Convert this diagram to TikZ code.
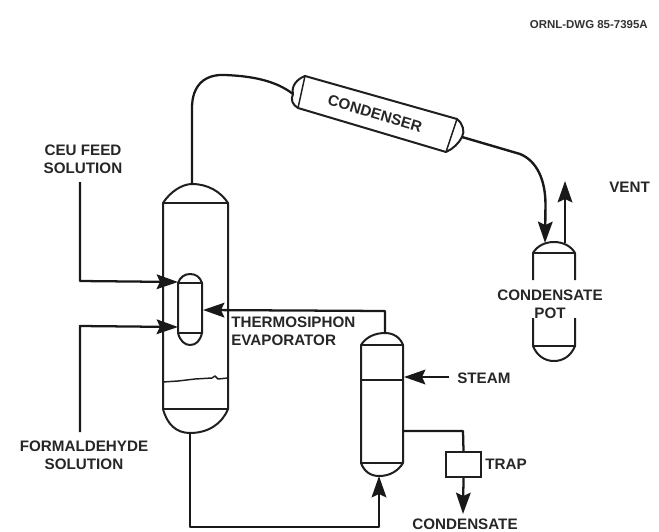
\documentclass[tikz,border=0pt]{standalone}
\usepackage{fontspec}
\setmainfont{Liberation Sans}
\usetikzlibrary{arrows.meta}
\tikzset{
  x=0.75pt,y=-0.75pt,
  vessel/.style={draw=black!88,line width=1.5pt,line join=round},
  pipe/.style={draw=black!90,line width=1.7pt,line join=round},
  flow/.style={pipe,-{Stealth[length=16pt,width=11pt,inset=2.5pt]}},
  lab/.style={font=\bfseries\fontsize{11.4pt}{13.2pt}\selectfont,text=black!85,align=center,inner sep=0pt},
  tag/.style={font=\bfseries\fontsize{8.6pt}{10pt}\selectfont,text=black!80,inner sep=0pt}
}
\begin{document}
\begin{tikzpicture}
\useasboundingbox (0,0) rectangle (659,531);
% named points
\coordinate (colTop) at (192,184);
\coordinate (colBot) at (190,433);
\coordinate (colR) at (228,310);
\coordinate (innerL1) at (178,282);
\coordinate (innerL2) at (178,327);
\coordinate (innerR) at (203,310);
\coordinate (evapTop) at (385,333);
\coordinate (evapBot) at (379,476);
\coordinate (evapR) at (403,431);
\coordinate (evapSteam) at (404,377);
\coordinate (condIn) at (293,94);
\coordinate (condOut) at (462,137);
\coordinate (potIn) at (545,243);
\coordinate (potOut) at (565,243);
\coordinate (ventTip) at (565,181);
\coordinate (ceuStart) at (80,182);
\coordinate (formStart) at (80,432);
\coordinate (steamStart) at (449,377);
\coordinate (condTip) at (463,514);
% main column
\draw[vessel] (163,203) .. controls (170,192) and (182,184) .. (colTop) .. controls (208,184) and (221,192) .. (228,203)
  -- (228,409) .. controls (222,424) and (208,433) .. (colBot) .. controls (176,433) and (167,424) .. (163,409) -- cycle;
\draw[vessel] (163,203) -- (228,203);
\draw[vessel] (163,409) -- (228,409);
\draw[vessel,line width=1.1pt] (163,382) -- (178,381) -- (195,379) -- (212,378) -- (215,376) -- (218,379) -- (228,378);
% inner evaporator
\draw[vessel] (178,283) .. controls (180,277) and (185,274) .. (190,274) .. controls (196,274) and (200,277) .. (202,283)
  -- (202,333) .. controls (200,341) and (196,345) .. (190,345) .. controls (185,345) and (180,341) .. (178,333) -- cycle;
\draw[vessel,line width=1.1pt] (178,283) -- (202,283);
\draw[vessel,line width=1.1pt] (178,333) -- (202,333);
% thermosiphon vessel
\draw[vessel] (361,345) .. controls (366,337) and (375,333) .. (evapTop) .. controls (393,333) and (400,337) .. (403,345)
  -- (403,463) .. controls (398,471) and (390,476) .. (evapBot) .. controls (370,476) and (364,471) .. (361,463) -- cycle;
\draw[vessel] (361,345) -- (403,345);
\draw[vessel] (361,380) -- (403,380);
\draw[vessel] (361,463) -- (403,463);
% condenser
\draw[vessel] (305,76) -- (457,119) .. controls (463,124) and (465,131) .. (condOut) .. controls (459,143) and (453,149) .. (446,152)
  -- (298,108) .. controls (293,105) and (290,100) .. (condIn) .. controls (291,86) and (297,79) .. (305,76) -- cycle;
\draw[vessel,line width=1.1pt] (305,76) -- (298,108);
\draw[vessel,line width=1.1pt] (457,119) -- (446,152);
\node[lab,rotate=-16.5] (condenser) at (375,113.5) {CONDENSER};
% pot
\draw[vessel] (533,280) -- (533,253) .. controls (537,246) and (545,242) .. (554,242) .. controls (563,242) and (571,246) .. (575,253) -- (575,280);
\draw[vessel] (533,318) -- (533,346) .. controls (537,356) and (545,361) .. (554,361) .. controls (563,361) and (571,356) .. (575,346) -- (575,318);
\draw[vessel] (533,253) -- (575,253);
\draw[vessel] (533,346) -- (575,346);
% trap
\node[draw=black!88,line width=1.5pt,minimum width=26.2pt,minimum height=18.8pt,inner sep=0pt] (trap) at (463.5,464.5) {};
% pipes
\draw[pipe] (colTop) -- (192,108) .. controls (192,85) and (205,74) .. (225,75) .. controls (250,76) and (275,80) .. (condIn);
\draw[flow,line width=1.8pt] (condOut) -- (520,154) .. controls (537,161) and (545.5,180) .. (545.5,205) -- (potIn);
\draw[flow] (potOut) -- (ventTip);
\draw[flow] (ceuStart) -- (80,281) -- (innerL1);
\draw[flow] (formStart) -- (80,326) -- (innerL2);
\draw[flow] (evapTop) -- (385,311) -- (innerR);
\draw[flow] (steamStart) -- (evapSteam);
\draw[flow] (colBot) -- (190,527) -- (379,527) -- (evapBot);
\draw[pipe] (evapR) -- (463,431) -- (trap.north);
\draw[flow] (trap.south) -- (condTip);
% labels
\node[tag,anchor=east] (dwg) at (648,25) {ORNL-DWG 85-7395A};
\node[lab] (ceu) at (83,159) {CEU FEED\\SOLUTION};
\node[lab] (form) at (84,455) {FORMALDEHYDE\\SOLUTION};
\node[lab,align=left,anchor=west] (thermo) at (231,331) {THERMOSIPHON\\EVAPORATOR};
\node[lab,anchor=west] (vent) at (609,187) {VENT};
\node[lab] (pot) at (550,304) {CONDENSATE\\POT};
\node[lab,anchor=west] (steam) at (457,378) {STEAM};
\node[lab,anchor=west] (traplab) at (485,464) {TRAP};
\node[lab] (cond) at (465,524) {CONDENSATE};
\end{tikzpicture}
\end{document}
